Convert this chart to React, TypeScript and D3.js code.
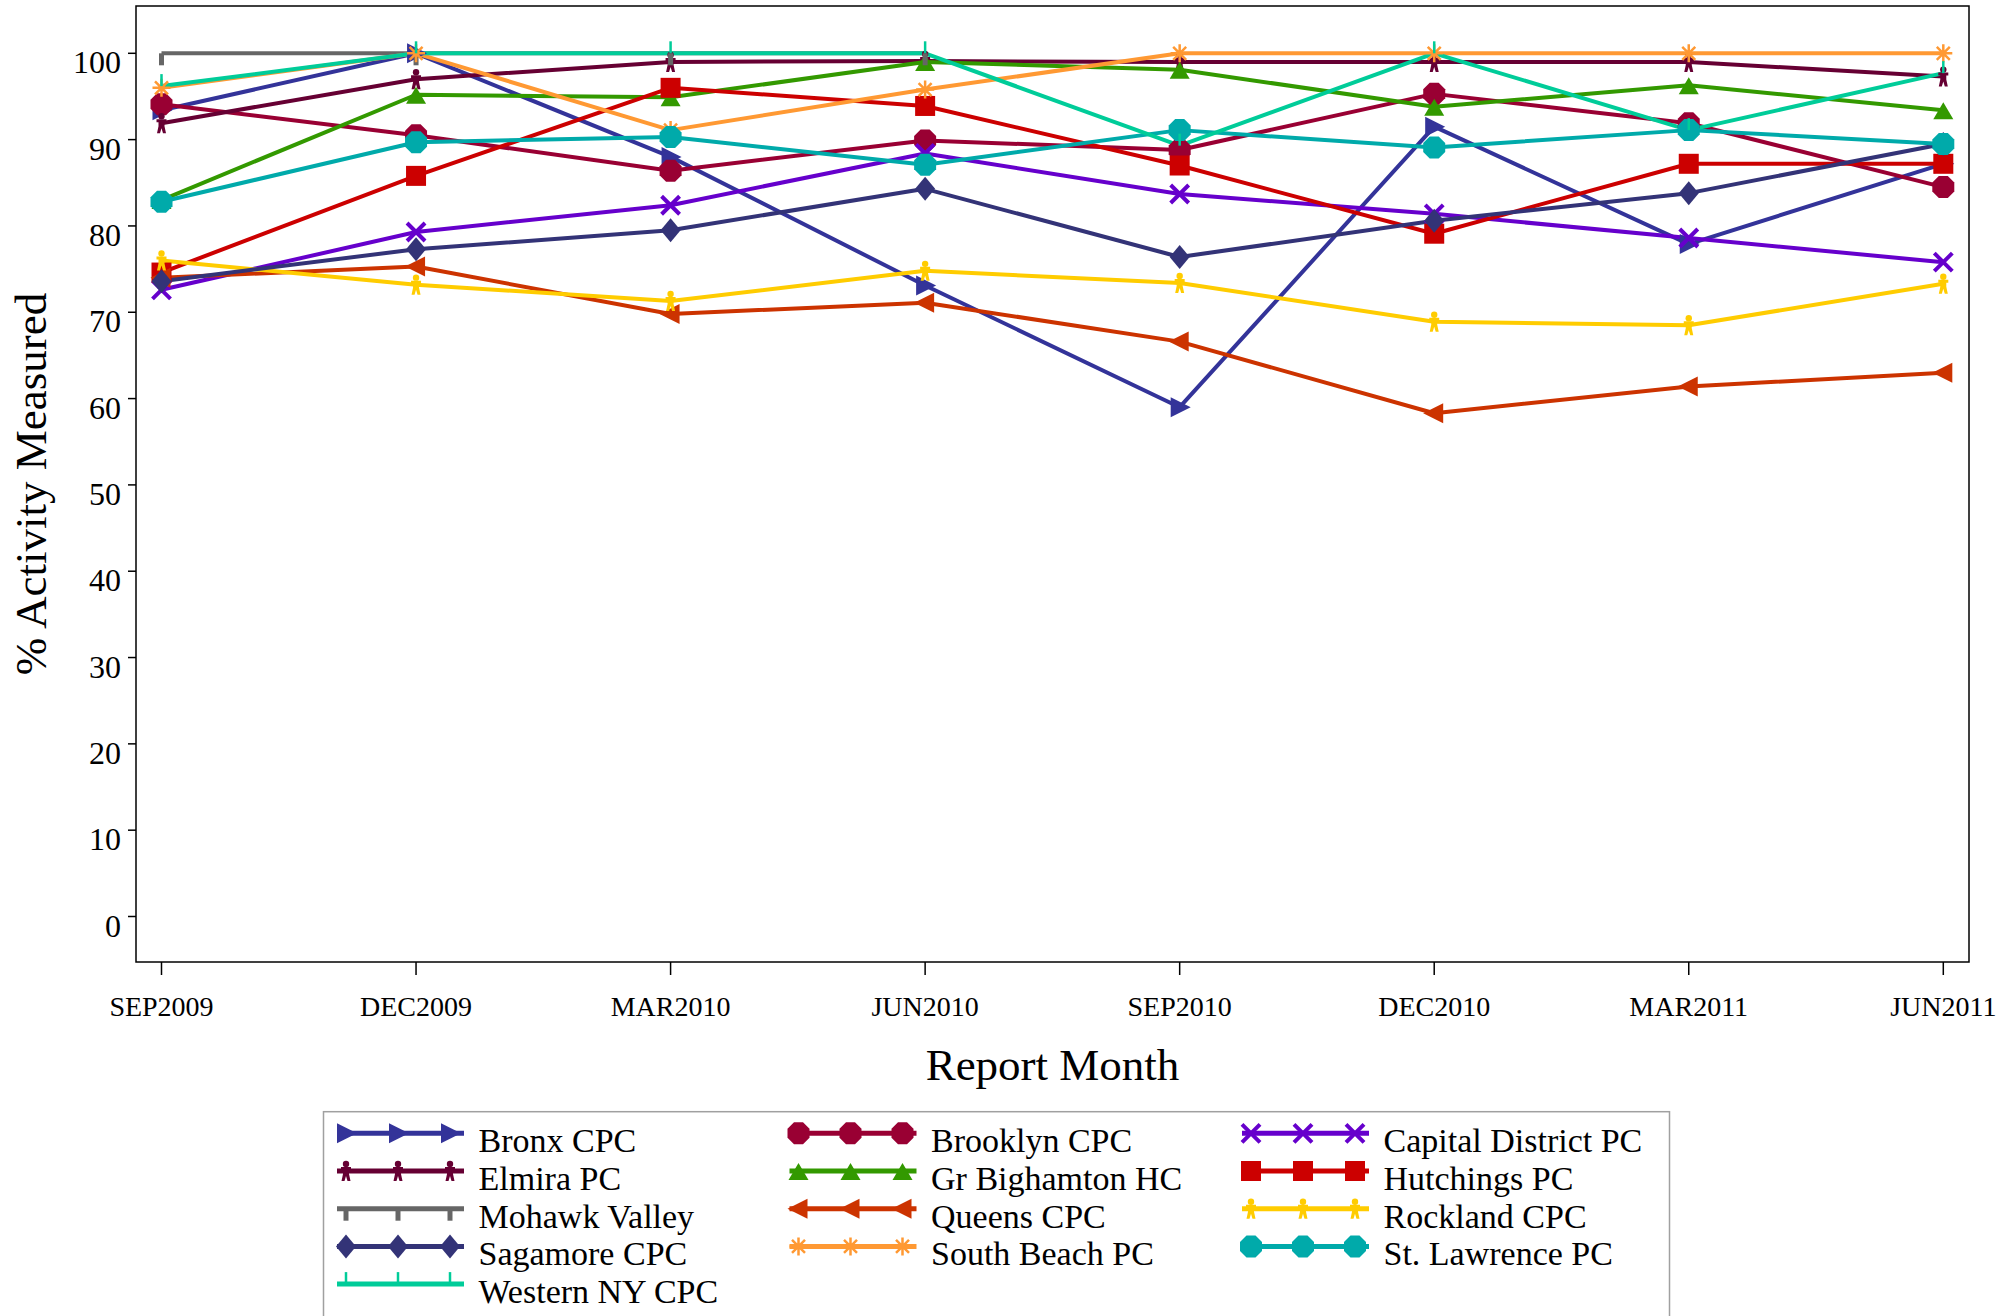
import React from "react";
import * as d3 from "d3";

const months = ["SEP2009", "DEC2009", "MAR2010", "JUN2010", "SEP2010", "DEC2010", "MAR2011", "JUN2011"];
const yTicks = [0, 10, 20, 30, 40, 50, 60, 70, 80, 90, 100];

const bronx = [93.4, 100, 88.0, 73.1, 59.0, 91.5, 77.9, 87.2];
const brooklyn = [94.1, 90.5, 86.4, 89.9, 88.8, 95.3, 91.9, 84.5];
const capitalDistrict = [72.6, 79.3, 82.4, 88.4, 83.7, 81.4, 78.6, 75.8];
const elmira = [91.9, 97.0, 99.0, 99.1, 99.0, 99.0, 99.0, 97.3];
const grBighamton = [83.0, 95.2, 94.9, 99.0, 98.1, 93.8, 96.3, 93.4];
const hutchings = [74.6, 85.8, 96.0, 93.9, 87.0, 79.1, 87.2, 87.2];
const mohawkValley = [100, 100, 100, 100, null, null, null, null];
const queens = [74.0, 75.3, 69.8, 71.1, 66.6, 58.3, 61.4, 63.0];
const rockland = [76.0, 73.2, 71.3, 74.8, 73.4, 68.9, 68.5, 73.3];
const sagamore = [73.6, 77.3, 79.5, 84.3, 76.4, 80.6, 83.8, 89.5];
const southBeach = [96.0, 100, 91.1, 95.8, 100, 100, 100, 100];
const stLawrence = [82.8, 89.7, 90.3, 87.1, 91.1, 89.1, 91.1, 89.5];
const westernNY = [96.2, 100, 100, 100, 89.3, 100, 91.1, 97.7];

const seriesNames = [
  "Bronx CPC", "Brooklyn CPC", "Capital District PC", "Elmira PC", "Gr Bighamton HC",
  "Hutchings PC", "Mohawk Valley", "Queens CPC", "Rockland CPC", "Sagamore CPC",
  "South Beach PC", "St. Lawrence PC", "Western NY CPC",
];
const seriesValues = [
  bronx, brooklyn, capitalDistrict, elmira, grBighamton, hutchings, mohawkValley,
  queens, rockland, sagamore, southBeach, stLawrence, westernNY,
];
const seriesColors = [
  "#333399", "#990033", "#6600CC", "#660033", "#339900", "#CC0000", "#666666",
  "#CC3300", "#FFCC00", "#333377", "#FF9933", "#00AAAA", "#00CC99",
];
const seriesMarkers = [
  "triRight", "circle", "x", "person", "triUp", "square", "tickDown",
  "triLeft", "person", "diamond", "asterisk", "circle", "tickUp",
];

const W = 2014, H = 1316;
const frame = { left: 136, top: 6, right: 1969, bottom: 962 };
const serif = "'Liberation Serif', 'Times New Roman', serif";

function Marker({ type, color, x, y }: { type: string; color: string; x: number; y: number }) {
  const t = `translate(${x},${y})`;
  switch (type) {
    case "triRight":
      return <path transform={t} d="M-9,-10L11,0L-9,10Z" fill={color} />;
    case "triLeft":
      return <path transform={t} d="M9,-10L-11,0L9,10Z" fill={color} />;
    case "triUp":
      return <path transform={t} d="M0,-8L10,9L-10,9Z" fill={color} />;
    case "square":
      return <rect x={x - 10} y={y - 10} width={20} height={20} fill={color} />;
    case "diamond":
      return <path transform={t} d="M0,-12L10,0L0,12L-10,0Z" fill={color} />;
    case "circle":
      return (
        <path
          transform={t}
          d="M-4.5,-11L4.5,-11L11,-4.5L11,4.5L4.5,11L-4.5,11L-11,4.5L-11,-4.5Z"
          fill={color}
        />
      );
    case "x":
      return (
        <path transform={t} d="M-9,-9L9,9M-9,9L9,-9" stroke={color} strokeWidth={4} fill="none" />
      );
    case "asterisk":
      return (
        <path
          transform={t}
          d="M0,-9L0,9M-9,0L9,0M-6.5,-6.5L6.5,6.5M-6.5,6.5L6.5,-6.5"
          stroke={color}
          strokeWidth={2.5}
          fill="none"
        />
      );
    case "person":
      return (
        <g transform={t} fill={color}>
          <circle cx={0} cy={-7} r={3.2} />
          <path d="M-5,-4L5,-4L5,-1L3,-1L3,3L4.5,10L1.5,10L0,5L-1.5,10L-4.5,10L-3,3L-3,-1L-5,-1Z" />
        </g>
      );
    case "tickDown":
      return <path transform={t} d="M0,0L0,12" stroke={color} strokeWidth={5} fill="none" />;
    case "tickUp":
      return <path transform={t} d="M0,0L0,-12" stroke={color} strokeWidth={2.5} fill="none" />;
    default:
      return null;
  }
}

export default function App() {
  const x = d3.scalePoint<string>().domain(months).range([161.5, 1943.3]).padding(0);
  const y = d3.scaleLinear().domain([0, 100]).range([916.5, 53.3]);

  const line = d3
    .line<number | null>()
    .defined((d) => d != null)
    .x((_, i) => x(months[i]) as number)
    .y((d) => y(d as number));

  const legendCols = 3;
  const legendX0 = 337;
  const legendColStep = 452.5;
  const legendY0 = 1133.3;
  const legendRowStep = 37.7;

  return (
    <svg
      width={W}
      height={H}
      style={{ position: "absolute", left: 0, top: 0, background: "#fff" }}
      xmlns="http://www.w3.org/2000/svg"
    >
      <rect x={0} y={0} width={W} height={H} fill="#fff" />

      {/* series lines */}
      {seriesValues.map((vals, si) => (
        <path
          key={"l" + si}
          d={line(vals) || ""}
          fill="none"
          stroke={seriesColors[si]}
          strokeWidth={4}
          strokeLinejoin="round"
        />
      ))}
      {/* markers */}
      {seriesValues.map((vals, si) =>
        vals.map((v, i) =>
          v == null ? null : (
            <Marker
              key={`m${si}-${i}`}
              type={seriesMarkers[si]}
              color={seriesColors[si]}
              x={x(months[i]) as number}
              y={y(v)}
            />
          )
        )
      )}

      {/* frame */}
      <rect
        x={frame.left}
        y={frame.top}
        width={frame.right - frame.left}
        height={frame.bottom - frame.top}
        fill="none"
        stroke="#000"
        strokeWidth={1.5}
      />

      {/* y axis */}
      {yTicks.map((t) => (
        <g key={"yt" + t}>
          <line x1={128} x2={frame.left} y1={y(t)} y2={y(t)} stroke="#000" strokeWidth={1.5} />
          <text
            x={121}
            y={y(t) + 20}
            textAnchor="end"
            fontFamily={serif}
            fontSize={32}
            fill="#000"
          >
            {t}
          </text>
        </g>
      ))}
      <text
        transform={`translate(46,${(frame.top + frame.bottom) / 2}) rotate(-90)`}
        textAnchor="middle"
        fontFamily={serif}
        fontSize={45}
        fill="#000"
      >
        % Activity Measured
      </text>

      {/* x axis */}
      {months.map((m) => (
        <g key={"xt" + m}>
          <line
            x1={x(m) as number}
            x2={x(m) as number}
            y1={frame.bottom}
            y2={975}
            stroke="#000"
            strokeWidth={1.5}
          />
          <text
            x={x(m) as number}
            y={1016}
            textAnchor="middle"
            fontFamily={serif}
            fontSize={28}
            fill="#000"
          >
            {m}
          </text>
        </g>
      ))}
      <text
        x={(frame.left + frame.right) / 2}
        y={1080}
        textAnchor="middle"
        fontFamily={serif}
        fontSize={45}
        fill="#000"
      >
        Report Month
      </text>

      {/* legend */}
      <rect x={323.5} y={1111.7} width={1346} height={260} fill="none" stroke="#a0a0a0" strokeWidth={1.5} />
      {seriesNames.map((name, si) => {
        const col = si % legendCols;
        const row = Math.floor(si / legendCols);
        const lx = legendX0 + col * legendColStep;
        const ly = legendY0 + row * legendRowStep;
        return (
          <g key={"lg" + si}>
            <line x1={lx} x2={lx + 127} y1={ly} y2={ly} stroke={seriesColors[si]} strokeWidth={5} />
            {[9, 61, 113].map((dx) => (
              <Marker key={dx} type={seriesMarkers[si]} color={seriesColors[si]} x={lx + dx} y={ly} />
            ))}
            <text x={lx + 141.5} y={ly + 19} fontFamily={serif} fontSize={34} fill="#000">
              {name}
            </text>
          </g>
        );
      })}
    </svg>
  );
}
